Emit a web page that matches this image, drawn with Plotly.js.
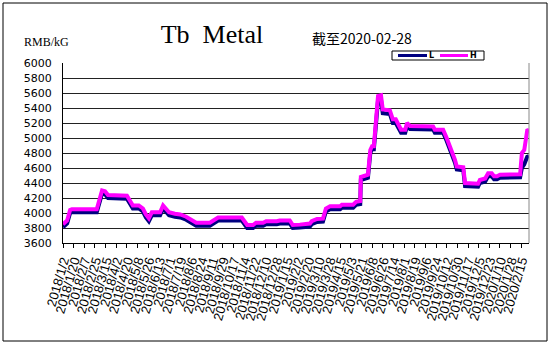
<!DOCTYPE html>
<html>
<head>
<meta charset="utf-8">
<script src="https://cdn.plot.ly/plotly-3.0.1.min.js"></script>
<style>html,body{margin:0;padding:0;background:#fff;}#chart{width:557px;height:347px;}</style>
</head>
<body>
<div id="chart"></div>
<script>
// Dates of each price point
var dates = [
"2018-01-02","2018-01-09","2018-01-14","2018-01-17","2018-02-28","2018-03-05","2018-03-09","2018-03-14","2018-03-19","2018-04-20",
"2018-04-25","2018-04-30","2018-05-10","2018-05-17","2018-05-22","2018-05-27","2018-06-01","2018-06-15","2018-06-20","2018-06-25",
"2018-06-30","2018-07-10","2018-07-19","2018-07-29","2018-08-10","2018-08-15","2018-09-07","2018-09-12","2018-09-21","2018-10-31",
"2018-11-05","2018-11-09","2018-11-19","2018-11-24","2018-12-06","2018-12-11","2018-12-29","2019-01-03","2019-01-20","2019-01-25",
"2019-02-06","2019-02-23","2019-02-26","2019-03-07","2019-03-17","2019-03-22","2019-03-29","2019-04-15","2019-04-18","2019-05-07",
"2019-05-12","2019-05-19","2019-05-20","2019-06-01","2019-06-05","2019-06-08","2019-06-11","2019-06-15","2019-06-18","2019-06-23",
"2019-06-26","2019-07-08","2019-07-13","2019-07-18","2019-07-22","2019-07-27","2019-08-03","2019-08-06","2019-08-11","2019-09-19",
"2019-09-22","2019-10-06","2019-10-12","2019-10-21","2019-10-26","2019-10-29","2019-11-09","2019-11-12","2019-12-04","2019-12-07",
"2019-12-16","2019-12-21","2019-12-27","2019-12-31","2020-01-05","2020-01-10","2020-02-13","2020-02-16","2020-02-20","2020-02-25",
"2020-02-28"
];
// High price (H)
var priceH = [
3850,3900,4040,4050,4050,4220,4300,4290,4240,4230,
4150,4100,4100,4060,3980,3930,4010,4010,4100,4060,
4010,3990,3980,3950,3900,3870,3870,3900,3940,3940,
3880,3840,3840,3870,3870,3890,3890,3900,3900,3840,
3845,3860,3890,3920,3925,4060,4090,4090,4110,4110,
4150,4160,4480,4510,4840,4890,4890,5240,5560,5570,
5380,5370,5250,5250,5180,5110,5110,5200,5160,5155,
5110,5110,5000,4820,4710,4620,4610,4400,4390,4440,
4460,4530,4530,4490,4490,4510,4515,4800,4840,5100,
5110
];
// Low price (L)
var priceL = [
3810,3860,4000,4010,4010,4180,4260,4250,4200,4190,
4110,4060,4060,4020,3940,3890,3970,3970,4060,4020,
3970,3950,3940,3910,3860,3830,3830,3860,3900,3900,
3840,3800,3800,3830,3830,3850,3850,3860,3860,3800,
3805,3820,3850,3880,3885,4020,4050,4050,4070,4070,
4110,4120,4440,4470,4800,4850,4850,5200,5500,5510,
5330,5320,5200,5200,5140,5070,5070,5160,5120,5115,
5070,5070,4960,4780,4670,4580,4570,4360,4350,4400,
4420,4490,4490,4450,4450,4470,4475,4600,4650,4750,
4760
];
// X-axis tick labels (every 18 days)
var tickLabels = [
"2018/1/2","2018/1/20","2018/2/7","2018/2/25","2018/3/15","2018/4/2","2018/4/20","2018/5/8","2018/5/26","2018/6/13",
"2018/7/1","2018/7/19","2018/8/6","2018/8/24","2018/9/11","2018/9/29","2018/10/17","2018/11/4","2018/11/22","2018/12/10",
"2018/12/28","2019/1/15","2019/2/2","2019/2/20","2019/3/10","2019/3/28","2019/4/15","2019/5/3","2019/5/21","2019/6/8",
"2019/6/26","2019/7/14","2019/8/1","2019/8/19","2019/9/6","2019/9/24","2019/10/12","2019/10/30","2019/11/17","2019/12/5",
"2019/12/23","2020/1/10","2020/1/28","2020/2/15"
];
var yTicks = [3600,3800,4000,4200,4400,4600,4800,5000,5200,5400,5600,5800,6000];
var seriesNames = ['L','H'];
var seriesColors = ['#000080','#FF00FF'];

function toIso(s){var p=s.split('/');return p[0]+'-'+('0'+p[1]).slice(-2)+'-'+('0'+p[2]).slice(-2);}
var tickVals = tickLabels.map(toIso);

var traces = [
  {x: dates, y: priceL, type:'scatter', mode:'lines', name:seriesNames[0], line:{color:seriesColors[0], width:4}},
  {x: dates, y: priceH, type:'scatter', mode:'lines', name:seriesNames[1], line:{color:seriesColors[1], width:4}}
];

// helpers pixel -> paper
var L0=63, W=466, T0=63, H0=180;
function px(x){return (x-L0)/W;}
function py(y){return (T0+H0-y)/H0;}

var shapes = [
  {type:'rect', xref:'paper', yref:'paper', x0:px(3), x1:px(547), y0:py(341), y1:py(3), line:{color:'#000', width:1}},
  {type:'line', xref:'paper', yref:'paper', x0:1, x1:1, y0:0, y1:1, line:{color:'#888', width:1}},
  // legend box
  {type:'rect', xref:'paper', yref:'paper', x0:px(392), x1:px(484), y0:py(60), y1:py(51), line:{color:'#000', width:1}, fillcolor:'#fff'},
  {type:'line', xref:'paper', yref:'paper', x0:px(398), x1:px(427), y0:py(55.5), y1:py(55.5), line:{color:seriesColors[0], width:3}},
  {type:'line', xref:'paper', yref:'paper', x0:px(440), x1:px(468), y0:py(55.5), y1:py(55.5), line:{color:seriesColors[1], width:3}}
];

var layout = {
  width:557, height:347,
  margin:{l:63, r:28, t:63, b:104},
  paper_bgcolor:'#fff', plot_bgcolor:'#fff',
  font:{family:'"DejaVu Sans", sans-serif', color:'#000'},
  title:{text:'Tb\u00a0\u00a0Metal', font:{family:'"Liberation Serif", serif', size:26, color:'#000'},
         x:212/557, xanchor:'center', xref:'container', y:1-34/347, yanchor:'middle', yref:'container'},
  showlegend:false,
  xaxis:{type:'date', range:['2018-01-02','2020-02-28'], tickmode:'array', tickvals:tickVals, ticktext:tickLabels,
         tickangle:-74, tickfont:{family:'"Liberation Sans", sans-serif', size:13, color:'#000'},
         showgrid:false, showline:true, linecolor:'#000', linewidth:1, ticks:'outside', ticklen:4, tickcolor:'#000',
         zeroline:false, fixedrange:true, automargin:false},
  yaxis:{range:[3600,6000], tickmode:'array', tickvals:yTicks, showgrid:true, gridcolor:'#222', gridwidth:1,
         showline:true, linecolor:'#000', linewidth:1, ticks:'', ticklabelstandoff:8,
         tickfont:{family:'"DejaVu Sans", sans-serif', size:11, color:'#000'}, zeroline:false, fixedrange:true, automargin:false},
  annotations:[
    {text:'截至2020-02-28', xref:'paper', yref:'paper', x:px(310), y:py(38), xanchor:'left', yanchor:'middle',
     showarrow:false, font:{family:'"Noto Sans CJK SC", sans-serif', size:14, color:'#000'}},
    {text:'RMB/kG', xref:'paper', yref:'paper', x:px(22), y:py(42.5), xanchor:'left', yanchor:'middle',
     showarrow:false, font:{family:'"Liberation Serif", serif', size:12, color:'#000'}},
    {text:'<b>'+seriesNames[0]+'</b>', xref:'paper', yref:'paper', x:px(428), y:py(55.5), xanchor:'left', yanchor:'middle',
     showarrow:false, borderpad:0, font:{family:'"DejaVu Sans", sans-serif', size:8, color:'#000'}},
    {text:'<b>'+seriesNames[1]+'</b>', xref:'paper', yref:'paper', x:px(469), y:py(55.5), xanchor:'left', yanchor:'middle',
     showarrow:false, borderpad:0, font:{family:'"DejaVu Sans", sans-serif', size:8, color:'#000'}}
  ],
  shapes: shapes
};

Plotly.newPlot('chart', traces, layout, {displayModeBar:false, staticPlot:true});
</script>
</body>
</html>
